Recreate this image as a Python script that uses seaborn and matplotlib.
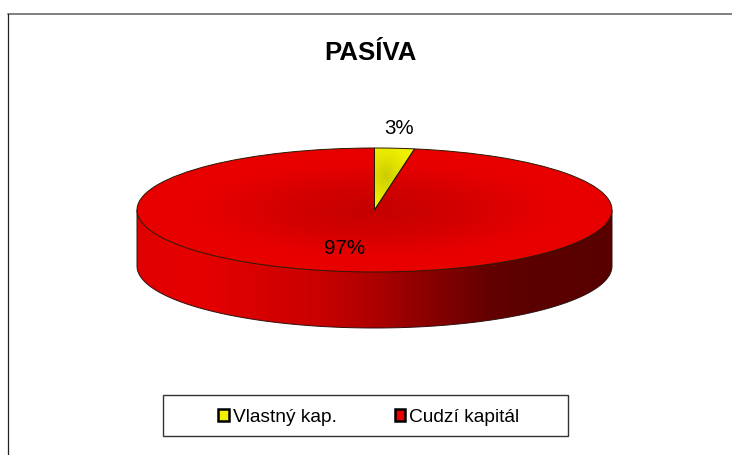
import numpy as np
import matplotlib
matplotlib.use("Agg")
import matplotlib.pyplot as plt
import seaborn as sns
from matplotlib.colors import LinearSegmentedColormap
from matplotlib.lines import Line2D
from matplotlib.patches import Patch, Polygon, Rectangle

labels = ["Vlastný kap.", "Cudzí kapitál"]
values = [2.7, 97.3]
colors = sns.color_palette(["#f0f000", "#e80000"])

sns.set_theme(style="white")
plt.rcParams['font.family'] = ['Liberation Sans', 'DejaVu Sans']

W, H = 732, 455
CX, CY, RX, RY, DEPTH = 374.5, 210, 237.5, 62, 56

fig = plt.figure(figsize=(W / 100, H / 100), dpi=100)
ax = fig.add_axes([0, 0, 1, 1])

wedges, _, pcts = ax.pie(values, colors=colors, startangle=90, counterclock=False,
                         autopct='%.0f%%', radius=1, textprops={'fontsize': 14.8, 'color': 'black'})
ax.set_aspect('auto')
xlim = (-CX / RX, (W - CX) / RX)
ylim = ((CY - H) / RY, CY / RY)
extent = (-1, 1, -1, 1)

# gradient shading of the top of the pie
xx, yy = np.meshgrid(np.linspace(-1, 1, 500), np.linspace(-1, 1, 500))
red_shade = np.clip(np.hypot(xx, yy), 0, 1)
mid = np.radians(values[0] / sum(values) * 180)
yellow_shade = np.clip(np.hypot((xx - 0.55 * np.sin(mid)) / 0.1, (yy - 0.55 * np.cos(mid)) / 0.5), 0, 1)
shades = [yellow_shade, red_shade]
top_maps = [LinearSegmentedColormap.from_list("y", ["#cccc00", "#e0e000", "#f0f000"]),
            LinearSegmentedColormap.from_list("r", [(0, "#c40000"), (0.4, "#d40000"), (0.75, "#e80000"), (1, "#e80000")])]
for w, shade, cmap in zip(wedges, shades, top_maps):
    im = ax.imshow(shade, cmap=cmap, extent=extent, aspect='auto', origin='lower', vmin=0, vmax=1, zorder=3)
    im.set_clip_path(w)
    w.set_facecolor("none")
    w.set_edgecolor("#2a1a00")
    w.set_linewidth(0.7)
    w.set_zorder(4)

# side wall of the disc
t = np.linspace(np.pi, 2 * np.pi, 200)
d = DEPTH / RY
outline = np.vstack([[[-1, 0]], np.column_stack([np.cos(t), np.sin(t) - d]), [[1, 0]]])
wall = Polygon(outline, closed=True, facecolor="none", edgecolor="#301010", linewidth=0.7, zorder=2)
ax.add_patch(wall)
side_map = LinearSegmentedColormap.from_list("side", [
    (0, "#e00000"), (0.13, "#e60000"), (0.385, "#c80000"), (0.49, "#b00000"),
    (0.595, "#900000"), (0.74, "#640000"), (0.825, "#5c0000"), (1, "#580000")])
im = ax.imshow(np.linspace(0, 1, 500)[None, :], cmap=side_map, extent=(-1, 1, -1 - d, 0),
               aspect='auto', zorder=1)
im.set_clip_path(wall)

ax.set_xlim(xlim)
ax.set_ylim(ylim)
ax.set_axis_off()

pcts[0].set_position(((399.5 - CX) / RX, (CY - 128) / RY))
pcts[1].set_position(((344.5 - CX) / RX, (CY - 249) / RY))
for p in pcts:
    p.set_zorder(6)

fig.text(370 / W, 1 - 52.5 / H, "PASÍVA", fontsize=18.5, fontweight='bold', color='black',
         ha='center', va='center')

# outer chart border, only top and left show
fig.add_artist(Line2D([8 / W, 1], [1 - 14 / H, 1 - 14 / H], transform=fig.transFigure,
                      color="#808080", linewidth=1.4))
fig.add_artist(Line2D([8 / W, 8 / W], [0, 1 - 14 / H], transform=fig.transFigure,
                      color="#202020", linewidth=0.9))

# legend box is wider than its entries
fig.add_artist(Rectangle((163 / W, 1 - 436 / H), 405 / W, 41 / H, transform=fig.transFigure,
                         facecolor="white", edgecolor="#333333", linewidth=1))
handles = [Patch(facecolor=c, edgecolor="black", linewidth=1.8) for c in colors]
leg = fig.legend(handles, labels, ncol=2, loc='center', bbox_to_anchor=(369 / W, 1 - 417.5 / H),
                 frameon=False, fontsize=13.8, handlelength=0.55, handleheight=0.55,
                 handletextpad=0.22, columnspacing=3.0, labelcolor="black")

fig.savefig("out.png", dpi=100)
